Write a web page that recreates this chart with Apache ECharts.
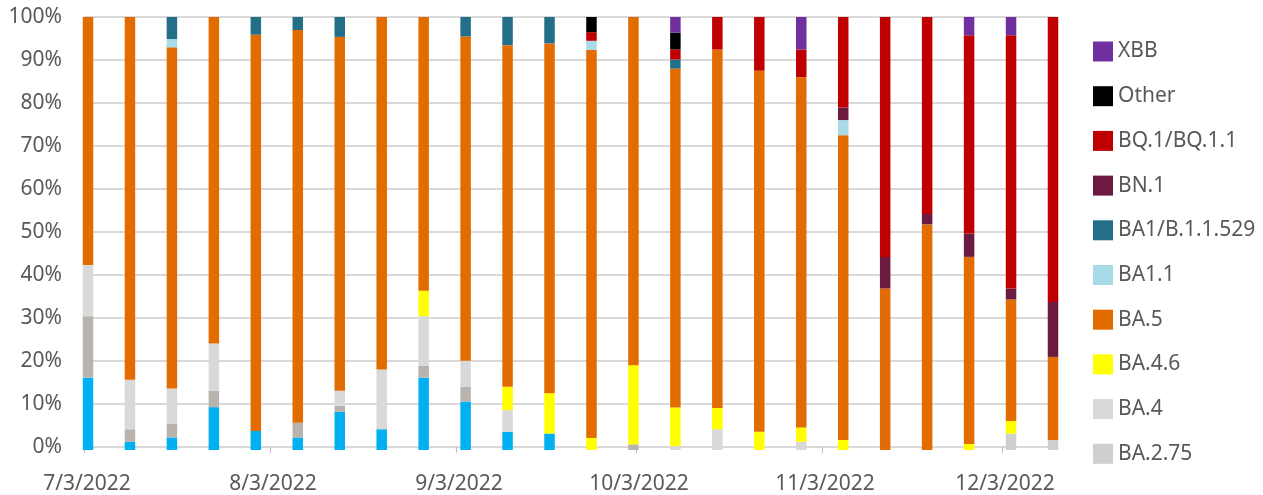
<!DOCTYPE html>
<html>
<head>
<meta charset="utf-8">
<script src="https://cdn.jsdelivr.net/npm/echarts@6/dist/echarts.min.js"></script>
<style>
html, body { margin: 0; padding: 0; background: #fff; }
#main { width: 1263px; height: 495px; }
</style>
</head>
<body>
<div id="main"></div>
<script>
// weekly sample dates (one bar each)
var weekDates = ['7/3/2022', '7/10/2022', '7/17/2022', '7/24/2022', '7/31/2022', '8/7/2022',
    '8/14/2022', '8/21/2022', '8/28/2022', '9/4/2022', '9/11/2022', '9/18/2022',
    '9/25/2022', '10/2/2022', '10/9/2022', '10/16/2022', '10/23/2022', '10/30/2022',
    '11/6/2022', '11/13/2022', '11/20/2022', '11/27/2022', '12/4/2022', '12/11/2022'];
var tickLabels = ['7/3/2022', '8/3/2022', '9/3/2022', '10/3/2022', '11/3/2022', '12/3/2022'];

// share of each lineage per week, % (bottom of stack first)
var BA2      = [16.7, 1.9, 2.9, 9.9, 4.4, 2.9, 8.8, 4.8, 16.7, 11.2, 4.2, 3.8, 0, 0, 0, 0, 0, 0, 0, 0, 0, 0, 0, 0];
var BA2_12_1 = [14.2, 2.9, 3.1, 3.8, 0, 3.4, 1.4, 0, 2.8, 3.4, 0, 0, 0, 1.3, 0, 0, 0, 0, 0, 0, 0, 0, 0, 0];
var BA2_75   = [0, 0, 0, 0, 0, 0, 0, 0, 0, 0, 0, 0, 0, 0, 0, 0, 0, 0, 0, 0, 0, 0, 3.8, 2.3];
var BA4      = [11.8, 11.4, 8.2, 10.9, 0, 0, 3.5, 13.8, 11.4, 6.0, 5.0, 0, 0, 0, 0.9, 4.8, 0, 1.9, 0, 0, 0, 0, 0, 0];
var BA4_6    = [0, 0, 0, 0, 0, 0, 0, 0, 5.9, 0, 5.4, 9.3, 2.8, 18.3, 8.9, 4.9, 4.2, 3.3, 2.3, 0, 0, 1.4, 2.9, 0];
var BA5      = [57.3, 83.8, 78.8, 75.4, 91.5, 90.7, 81.7, 81.4, 63.2, 74.9, 78.9, 80.8, 89.6, 80.4, 78.2, 82.7, 83.4, 80.9, 70.4, 37.3, 52.1, 43.2, 28.1, 19.2];
var BA1_1    = [0, 0, 1.9, 0, 0, 0, 0, 0, 0, 0, 0, 0, 2.1, 0, 0, 0, 0, 0, 3.5, 0, 0, 0, 0, 0];
var BA1      = [0, 0, 5.1, 0, 4.1, 3.0, 4.6, 0, 0, 4.5, 6.5, 6.1, 0, 0, 2.1, 0, 0, 0, 0, 0, 0, 0, 0, 0];
var BN1      = [0, 0, 0, 0, 0, 0, 0, 0, 0, 0, 0, 0, 0, 0, 0, 0, 0, 0, 2.9, 7.3, 2.4, 5.4, 2.5, 12.7];
var BQ1      = [0, 0, 0, 0, 0, 0, 0, 0, 0, 0, 0, 0, 2.0, 0, 2.3, 7.5, 12.4, 6.4, 20.9, 55.4, 45.5, 45.8, 58.5, 65.8];
var Other    = [0, 0, 0, 0, 0, 0, 0, 0, 0, 0, 0, 0, 3.5, 0, 3.9, 0, 0, 0, 0, 0, 0, 0, 0, 0];
var XBB      = [0, 0, 0, 0, 0, 0, 0, 0, 0, 0, 0, 0, 0, 0, 3.6, 0, 0, 7.5, 0, 0, 0, 4.2, 4.2, 0];

var seriesList = [
    { name: 'BA.2', data: BA2, color: '#00B0F0' },
    { name: 'BA.2.12.1', data: BA2_12_1, color: '#B9B3AD' },
    { name: 'BA.2.75', data: BA2_75, color: '#D0CECE' },
    { name: 'BA.4', data: BA4, color: '#D9D9D9' },
    { name: 'BA.4.6', data: BA4_6, color: '#FFFF00' },
    { name: 'BA.5', data: BA5, color: '#E36C00' },
    { name: 'BA1.1', data: BA1_1, color: '#A9DAE8' },
    { name: 'BA1/B.1.1.529', data: BA1, color: '#236F87' },
    { name: 'BN.1', data: BN1, color: '#6C1A40' },
    { name: 'BQ.1/BQ.1.1', data: BQ1, color: '#C00000' },
    { name: 'Other', data: Other, color: '#000000' },
    { name: 'XBB', data: XBB, color: '#7030A0' }
];
var legendNames = ['XBB', 'Other', 'BQ.1/BQ.1.1', 'BN.1', 'BA1/B.1.1.529', 'BA1.1', 'BA.5', 'BA.4.6', 'BA.4', 'BA.2.75'];

function dayOffset(s) {
    var p = s.split('/');
    return (Date.UTC(+p[2], +p[0] - 1, +p[1]) - Date.UTC(2022, 6, 3)) / 86400000;
}

var tickX = tickLabels.map(function (d) { return dayOffset(d); });
var labelX = tickX.map(function (d) { return d + 0.5; });

// 100% stacked: scale each week to its total
var totals = weekDates.map(function (d, i) {
    var t = 0;
    seriesList.forEach(function (s) { t += s.data[i]; });
    return t;
});

var series = seriesList.map(function (s) {
    return {
        name: s.name,
        type: 'bar',
        stack: 'all',
        xAxisIndex: 1,
        yAxisIndex: 1,
        barWidth: 10.5,
        clip: false,
        itemStyle: { color: s.color },
        data: s.data.map(function (v, i) { return v / totals[i] * 100; })
    };
});

var myChart = echarts.init(document.getElementById('main'));
var options = {
    animation: false,
    textStyle: { fontFamily: 'Noto Sans' },
    // grid 0: date scale, gridlines and labels; grid 1: the weekly bars
    grid: [
        { left: 84, right: 207, top: 17, bottom: 45 },
        { left: 88, right: 210, top: 17, bottom: 45 }
    ],
    legend: {
        orient: 'vertical',
        left: 1093,
        top: 41,
        padding: 0,
        data: legendNames,
        icon: 'rect',
        itemWidth: 20,
        itemHeight: 20,
        itemGap: 23.7,
        selectedMode: false,
        textStyle: { color: '#595959', fontSize: 21, fontFamily: 'Noto Sans' }
    },
    xAxis: [{
        type: 'value',
        gridIndex: 0,
        min: 0,
        max: 162,
        axisLine: { show: true, lineStyle: { color: '#D9D9D9', width: 2 } },
        axisTick: { show: true, customValues: tickX, length: 6, lineStyle: { color: '#BFBFBF' } },
        splitLine: { show: false },
        axisLabel: {
            customValues: labelX,
            margin: 27,
            color: '#595959',
            fontSize: 21,
            formatter: function (v) {
                var i = labelX.indexOf(v);
                return i >= 0 ? tickLabels[i] : '';
            }
        }
    }, {
        type: 'category',
        gridIndex: 1,
        data: weekDates,
        boundaryGap: false,
        show: false
    }],
    yAxis: [{
        type: 'value',
        gridIndex: 0,
        min: 0,
        max: 100,
        interval: 10,
        axisLine: { show: false },
        axisTick: { show: false },
        splitLine: { lineStyle: { color: '#D9D9D9', width: 2 } },
        axisLabel: { formatter: '{value}%', color: '#595959', fontSize: 21, margin: 22, padding: [5, 0, 0, 0] }
    }, {
        type: 'value',
        gridIndex: 1,
        min: 0,
        max: 100,
        show: false,
        splitLine: { show: false }
    }],
    series: series
};
myChart.setOption(options);
</script>
</body>
</html>
